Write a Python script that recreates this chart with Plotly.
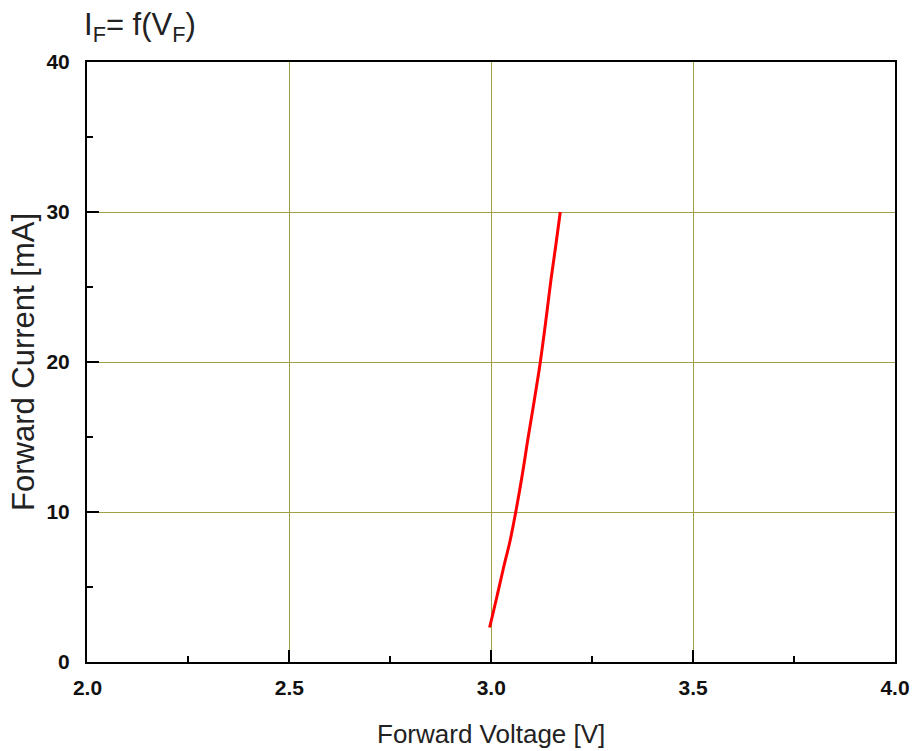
import plotly.graph_objects as go

# Forward current vs forward voltage
voltage_v = [2.996, 3.011, 3.031, 3.046, 3.060, 3.077, 3.091, 3.107, 3.121, 3.134, 3.148, 3.161, 3.171]
current_ma = [2.3, 4.0, 6.35, 8.0, 9.9, 12.5, 14.9, 17.5, 19.9, 22.5, 25.5, 28.0, 30.0]

x_ticks = [2.0, 2.5, 3.0, 3.5, 4.0]
x_tick_labels = ["2.0", "2.5", "3.0", "3.5", "4.0"]
y_ticks = [0, 10, 20, 30, 40]
y_tick_labels = ["0", "10", "20", "30", "40"]

FONT = "Liberation Sans, Arial, sans-serif"

fig = go.Figure()
fig.add_trace(go.Scatter(
    x=voltage_v, y=current_ma, mode="lines",
    line=dict(color="#ff0000", width=3, shape="spline", smoothing=1.0),
    showlegend=False, hoverinfo="skip",
))

axis_common = dict(
    showline=True, linecolor="black", linewidth=2, mirror=True,
    ticks="inside", ticklen=12, tickwidth=2, tickcolor="black",
    showgrid=True, gridwidth=1, zeroline=False,
    automargin=False,
    tickfont=dict(family=FONT, size=21, color="#111"),
)

fig.update_xaxes(
    range=[1.9988, 4.0], tickmode="array", tickvals=x_ticks,
    ticktext=["<b>%s</b>" % t for t in x_tick_labels],
    ticklabelstandoff=6, gridcolor="#a0a040",
    minor=dict(dtick=0.25, ticks="inside", ticklen=6, tickwidth=2, tickcolor="black", showgrid=False),
    **axis_common,
)
fig.update_yaxes(
    range=[0, 40], tickmode="array", tickvals=y_ticks,
    ticktext=["<b>%s</b>" % t for t in y_tick_labels],
    ticklabelstandoff=11, gridcolor="#a0a046",
    minor=dict(dtick=5, ticks="inside", ticklen=6, tickwidth=2, tickcolor="black", showgrid=False),
    **axis_common,
)

fig.update_layout(
    width=915, height=751,
    margin=dict(l=87, r=20, t=62, b=89),
    paper_bgcolor="white", plot_bgcolor="white",
    font=dict(family=FONT, color="black"),
    annotations=[
        dict(
            text="I<sub>F</sub>= f(V<sub>F</sub>)", xref="paper", yref="paper",
            x=-0.006, y=1.0, xanchor="left", yanchor="bottom", yshift=13,
            showarrow=False, font=dict(family=FONT, size=31, color="#222"),
        ),
        dict(
            text="Forward Current [mA]", xref="paper", yref="paper",
            x=0, y=0.5, xanchor="center", yanchor="middle", xshift=-64,
            textangle=-90, showarrow=False,
            font=dict(family=FONT, size=31, color="#222"),
        ),
        dict(
            text="Forward Voltage [V]", xref="paper", yref="paper",
            x=0.5, y=0, xanchor="center", yanchor="middle", yshift=-72,
            showarrow=False, font=dict(family=FONT, size=26, color="#222"),
        ),
    ],
)

fig.write_html("out.html", config={"displayModeBar": False},
               post_script="document.body.style.margin='0';")
